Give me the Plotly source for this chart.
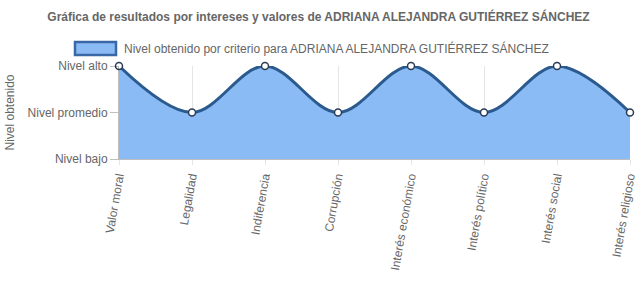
import plotly.graph_objects as go

categories = ["Valor moral", "Legalidad", "Indiferencia", "Corrupción",
              "Interés económico", "Interés político", "Interés social", "Interés religioso"]
values = [2, 1, 2, 1, 2, 1, 2, 1]
y_ticks = [0, 1, 2]
y_labels = ["Nivel bajo", "Nivel promedio", "Nivel alto"]
series_name = "Nivel obtenido por criterio para ADRIANA ALEJANDRA GUTIÉRREZ SÁNCHEZ"
title = "Gráfica de resultados por intereses y valores de ADRIANA ALEJANDRA GUTIÉRREZ SÁNCHEZ"

fill_color = "rgba(138,187,245,1)"
line_color = "#2b5a8e"
W, H = 637, 307
L, R, T, B = 119, 7, 66, 148
PW, PH = W - L - R, H - T - B

x = list(range(len(categories)))

fig = go.Figure()
fig.add_trace(go.Scatter(
    x=x, y=values, mode="lines+markers", name=series_name, showlegend=False,
    line=dict(shape="spline", smoothing=1.0, color=line_color, width=3),
    fill="tozeroy", fillcolor=fill_color,
    marker=dict(size=7, color="white", line=dict(color="#2b3b55", width=1.5)),
    cliponaxis=False,
))

# legend (box + label)
fig.add_shape(type="rect", xref="paper", yref="paper",
              x0=(75 - L) / PW, x1=(116 - L) / PW,
              y0=(H - B - 55) / PH, y1=(H - B - 42) / PH,
              fillcolor=fill_color, line=dict(color="#3a67a6", width=2.5))
fig.add_annotation(text=series_name, xref="paper", yref="paper",
                   x=(122 - L) / PW, y=(H - B - 49) / PH, xanchor="left", yanchor="middle",
                   showarrow=False, font=dict(size=12, color="#666666"))

font_family = "Liberation Sans, Arial, sans-serif"
fig.update_layout(
    width=W, height=H,
    margin=dict(l=L, r=R, t=T, b=B, autoexpand=False),
    paper_bgcolor="white", plot_bgcolor="white",
    font=dict(family=font_family, size=12, color="#666666"),
    title=dict(text="<b>" + title + "</b>", x=0.5, xanchor="center", y=1 - 17 / H, yanchor="middle",
               xref="container", yref="container",
               font=dict(size=12, color="#666666")),
    showlegend=False,
    xaxis=dict(range=[0, 7], tickvals=x, ticktext=categories, tickangle=-80,
               automargin=False, ticklabeloverflow="allow", ticklabelshift=-1,
               showgrid=True, gridcolor="rgba(0,0,0,0.1)", zeroline=False,
               showline=True, linecolor="rgba(0,0,0,0.25)", ticks="outside",
               tickcolor="rgba(0,0,0,0.1)", ticklen=5, tickfont=dict(size=12)),
    yaxis=dict(range=[0, 2], tickvals=y_ticks, ticktext=y_labels, automargin=False,
               showgrid=True, gridcolor="rgba(0,0,0,0.1)", zeroline=False,
               showline=True, linecolor="rgba(0,0,0,0.25)", ticks="outside",
               tickcolor="rgba(0,0,0,0.25)", ticklen=8,
               title=dict(text="Nivel obtenido", font=dict(size=12, color="#666666"), standoff=10)),
)

fig.write_html("out.html")
